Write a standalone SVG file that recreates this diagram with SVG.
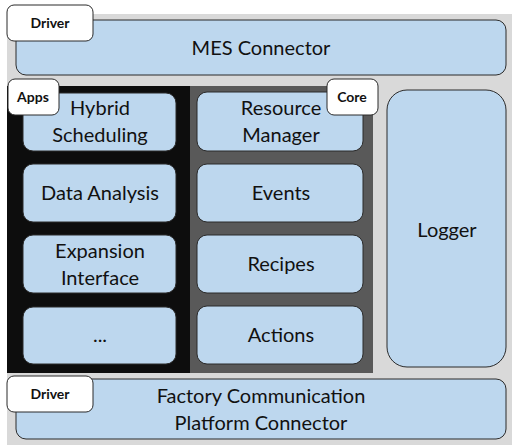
<svg xmlns="http://www.w3.org/2000/svg" width="516" height="445" viewBox="0 0 516 445">
<style>
.box{fill:#BDD7EE;stroke:#2b2b2b;stroke-width:1}
.tag{fill:#fff;stroke:#2b2b2b;stroke-width:1}
.t{font-family:Lato,"Open Sans",sans-serif;font-size:20px;fill:#111;text-anchor:middle}
.tb{font-family:Lato,"Open Sans",sans-serif;font-size:14px;font-weight:bold;fill:#111;text-anchor:middle}
</style>
<rect x="0" y="0" width="516" height="445" fill="#fff"/>
<rect x="7" y="14" width="505" height="431" fill="#D9D9D9"/>
<g id="apps-panel"><rect x="7" y="86" width="183" height="287" fill="#0D0D0D"/></g>
<g id="core-panel"><rect x="190" y="86" width="183" height="287" fill="#595959"/></g>
<g id="connectors"></g>
<g id="mes"><rect class="box" x="16" y="20" width="490" height="55" rx="10"/><text class="t" x="261" y="55">MES Connector</text></g>
<g id="driver-top"><rect class="tag" x="7" y="5" width="86" height="36" rx="7"/><text class="tb" x="50" y="28">Driver</text></g>
<g id="hybrid"><rect class="box" x="23" y="93" width="153" height="58" rx="10"/><text class="t" x="100" y="115">Hybrid</text><text class="t" x="100" y="142">Scheduling</text></g>
<g id="data"><rect class="box" x="23" y="164" width="153" height="58" rx="10"/><text class="t" x="100" y="200">Data Analysis</text></g>
<g id="expansion"><rect class="box" x="23" y="235" width="153" height="58" rx="10"/><text class="t" x="100" y="258">Expansion</text><text class="t" x="100" y="285">Interface</text></g>
<g id="more"><rect class="box" x="23" y="307" width="153" height="57" rx="10"/><text class="t" x="100" y="342">...</text></g>
<g id="apps-tag"><rect class="tag" x="8" y="79" width="51" height="36" rx="7"/><text class="tb" x="33" y="102">Apps</text></g>
<g id="resource"><rect class="box" x="197" y="92" width="166" height="59" rx="10"/><text class="t" x="281" y="115">Resource</text><text class="t" x="281" y="142">Manager</text></g>
<g id="events"><rect class="box" x="197" y="164" width="166" height="58" rx="10"/><text class="t" x="281" y="200">Events</text></g>
<g id="recipes"><rect class="box" x="197" y="235" width="166" height="58" rx="10"/><text class="t" x="281" y="271">Recipes</text></g>
<g id="actions"><rect class="box" x="197" y="306" width="166" height="58" rx="10"/><text class="t" x="281" y="342">Actions</text></g>
<g id="core-tag"><rect class="tag" x="327" y="79" width="51" height="36" rx="7"/><text class="tb" x="352" y="102">Core</text></g>
<g id="logger"><rect class="box" x="387" y="90" width="119" height="277" rx="20"/><text class="t" x="447" y="237">Logger</text></g>
<g id="fcp"><rect class="box" x="16" y="379" width="490" height="60" rx="10"/><text class="t" x="261" y="403">Factory Communication</text><text class="t" x="261" y="430">Platform Connector</text></g>
<g id="driver-bottom"><rect class="tag" x="7" y="376" width="86" height="36" rx="7"/><text class="tb" x="50" y="399">Driver</text></g>
</svg>
